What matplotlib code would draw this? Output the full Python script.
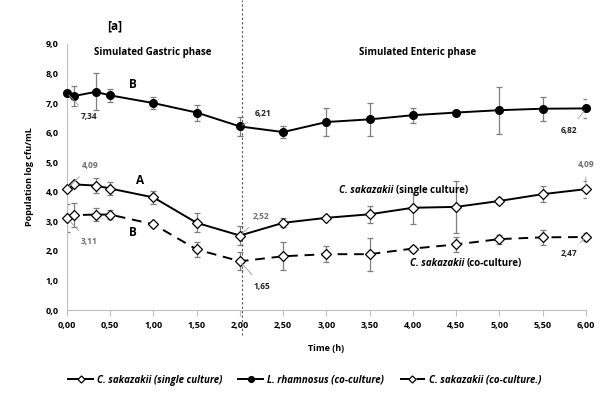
import numpy as np
import matplotlib.pyplot as plt

plt.rcParams['font.family'] = ['Open Sans', 'DejaVu Sans']

# tiempo de muestreo (h)
time_h = [0, 0.083, 0.333, 0.5, 1.0, 1.5, 2.0, 2.5, 3.0, 3.5, 4.0, 4.5, 5.0, 5.5, 6.0]

# L. rhamnosus (co-culture)
lr_mean = [7.34, 7.24, 7.38, 7.26, 7.00, 6.68, 6.21, 6.02, 6.36, 6.45, 6.59, 6.68, 6.76, 6.81, 6.82]
lr_err = [0.00, 0.35, 0.63, 0.22, 0.20, 0.27, 0.33, 0.20, 0.47, 0.55, 0.26, 0.03, 0.80, 0.40, 0.32]

# C. sakazakii (single culture)
cs_single = [4.09, 4.25, 4.21, 4.11, 3.81, 2.95, 2.52, 2.95, 3.12, 3.24, 3.46, 3.49, 3.69, 3.92, 4.09]
cs_single_err = [0.00, 0.05, 0.25, 0.22, 0.22, 0.32, 0.32, 0.15, 0.05, 0.28, 0.55, 0.88, 0.10, 0.28, 0.29]

# C. sakazakii (co-culture)
cs_co = [3.11, 3.21, 3.23, 3.23, 2.90, 2.05, 1.65, 1.82, 1.89, 1.89, 2.08, 2.22, 2.40, 2.46, 2.47]
cs_co_err = [0.48, 0.40, 0.23, 0.15, 0.05, 0.25, 0.30, 0.47, 0.28, 0.56, 0.10, 0.26, 0.15, 0.25, 0.15]

x_ticks = np.arange(0, 6.01, 0.5)
y_ticks = np.arange(0, 9.01, 1.0)

fig = plt.figure(figsize=(6.09, 3.96), dpi=100)
ax = fig.add_axes([0.110, 0.217, 0.852, 0.672])

eb_kw = dict(ecolor='#7f7f7f', elinewidth=0.9, capsize=2, capthick=0.9)

ax.errorbar(time_h, lr_mean, yerr=lr_err, fmt='none', **eb_kw)
ax.errorbar(time_h, cs_single, yerr=cs_single_err, fmt='none', **eb_kw)
ax.errorbar(time_h, cs_co, yerr=cs_co_err, fmt='none', **eb_kw)

l1, = ax.plot(time_h, cs_single, '-', color='black', lw=1.4, marker='D', ms=4.8,
              mfc='white', mec='black', mew=0.9, clip_on=False, zorder=3,
              label='C. sakazakii (single culture)')
l2, = ax.plot(time_h, lr_mean, '-', color='black', lw=1.4, marker='o', ms=5.5,
              mfc='black', mec='black', clip_on=False, zorder=3,
              label='L. rhamnosus (co-culture)')
l3, = ax.plot(time_h, cs_co, color='black', lw=1.4, dashes=(5, 3.5), marker='D', ms=4.8,
              mfc='white', mec='black', mew=0.9, clip_on=False, zorder=3,
              label='C. sakazakii (co-culture.)')

# linea divisoria entre fases
ax.plot([2.02, 2.02], [-0.85, 10.5], ls=(0, (2, 2)), color='#555555', lw=0.8, clip_on=False)

ax.set_xlim(0, 6)
ax.set_ylim(0, 9)
ax.set_xticks(x_ticks)
ax.set_xticklabels([f'{v:.2f}'.replace('.', ',') for v in x_ticks], fontsize=6.5, fontweight='bold')
ax.set_yticks(y_ticks)
ax.set_yticklabels([f'{v:.1f}'.replace('.', ',') for v in y_ticks], fontsize=6.5, fontweight='bold')
ax.tick_params(axis='y', length=0, pad=6)
ax.tick_params(axis='x', length=4, color='#bfbfbf', pad=4)
for s in ['top', 'right']:
    ax.spines[s].set_visible(False)
ax.spines['left'].set_color('#bfbfbf')
ax.spines['bottom'].set_color('#bfbfbf')

ax.set_xlabel('Time (h)', fontsize=6.5, fontweight='bold', labelpad=10)
ax.set_ylabel('Population log cfu/mL', fontsize=6.5, fontweight='bold', labelpad=8)

ax.text(0.55, 9.6, '[a]', fontsize=8.5, fontweight='bold', ha='center', va='center', clip_on=False)
ax.text(0.99, 8.7, 'Simulated Gastric phase', fontsize=7, fontweight='bold', ha='center', va='center')
ax.text(4.05, 8.7, 'Simulated Enteric phase', fontsize=7, fontweight='bold', ha='center', va='center')

ax.text(0.76, 7.63, 'B', fontsize=8.5, fontweight='bold', ha='center', va='center')
ax.text(0.84, 4.39, 'A', fontsize=8.5, fontweight='bold', ha='center', va='center')
ax.text(0.76, 2.63, 'B', fontsize=8.5, fontweight='bold', ha='center', va='center')

t1 = ax.text(3.80, 4.05, 'C. sakazakii ', fontsize=7, fontweight='bold', style='italic',
             ha='right', va='center')
ax.annotate('(single culture)', xy=(1, 0), xycoords=t1, va='bottom', fontsize=7, fontweight='bold')
t2 = ax.text(4.62, 1.57, 'C. sakazakii ', fontsize=7, fontweight='bold', style='italic',
             ha='right', va='center')
ax.annotate('(co-culture)', xy=(1, 0), xycoords=t2, va='bottom', fontsize=7, fontweight='bold')

# etiquetas de valores con linea guia
def tag(i, y, txt, dx, dy, color):
    ax.annotate(txt, xy=(time_h[i], y), xytext=(dx, dy), textcoords='offset points',
                fontsize=6, fontweight='bold', color=color, ha='center', va='center',
                arrowprops=dict(arrowstyle='-', color='#9a9a9a', lw=0.6,
                                shrinkA=4, shrinkB=2))

tag(0, lr_mean[0], '7,34', 16, -17, '#222222')
tag(6, lr_mean[6], '6,21', 17, 9, '#222222')
tag(14, lr_mean[14], '6,82', -12, -16, '#222222')
tag(0, cs_single[0], '4,09', 17, 17, '#6e6e6e')
tag(14, cs_single[14], '4,09', 0, 18, '#6e6e6e')
tag(6, cs_single[6], '2,52', 15, 14, '#6e6e6e')
tag(0, cs_co[0], '3,11', 16, -17, '#6e6e6e')
tag(6, cs_co[6], '1,65', 16, -18, '#222222')
tag(14, cs_co[14], '2,47', -12, -12, '#222222')

leg = fig.legend(handles=[l1, l2, l3], loc='center', bbox_to_anchor=(0.5, 0.04), ncol=3,
                 frameon=False, handlelength=2.6, columnspacing=1.6, handletextpad=0.4,
                 markerscale=0.75,
                 prop={'size': 7, 'weight': 'bold', 'style': 'italic'})

fig.savefig('out.png', dpi=100)
